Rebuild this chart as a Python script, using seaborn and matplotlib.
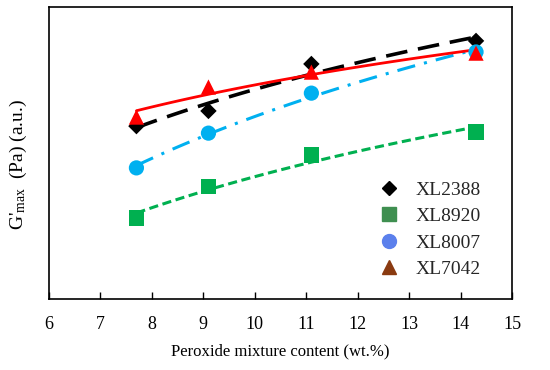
import numpy as np
import pandas as pd
import matplotlib.pyplot as plt
import seaborn as sns
from matplotlib.lines import Line2D

# Peroxide content (wt.%) and G'max values (arbitrary units)
peroxide = [7.7, 9.1, 11.1, 14.3]
xl2388 = [59.2, 64.4, 80.5, 88.4]
xl8920 = [27.7, 38.4, 49.3, 57.2]
xl8007 = [44.9, 56.8, 70.5, 84.6]
xl7042 = [62.3, 72.6, 77.7, 84.2]

grades = ['XL2388', 'XL8920', 'XL8007', 'XL7042']
x_ticks = [6, 7, 8, 9, 10, 11, 12, 13, 14, 15]

df = pd.DataFrame({
    'content': peroxide * 4,
    'gmax': xl2388 + xl8920 + xl8007 + xl7042,
    'grade': np.repeat(grades, len(peroxide)),
})

sns.set_theme(style='white')
plt.rcParams['font.family'] = ['Liberation Serif', 'DejaVu Serif']
plt.rcParams['mathtext.fontset'] = 'custom'
plt.rcParams['mathtext.rm'] = 'Liberation Serif'

# style per grade: marker colour, marker, size, line colour, dashes, width
styles = {
    'XL2388': ('black', 'D', 70, 'black', (6, 3), 2.6),
    'XL8920': ('#00b050', 's', 120, '#00b050', (3, 1.5), 2.2),
    'XL8007': ('#00b0f0', 'o', 120, '#00b0f0', (6, 3, 1, 3), 2.2),
    'XL7042': ('#ff0000', '^', 120, '#ff0000', None, 2.0),
}
legend_colors = {'XL2388': 'black', 'XL8920': '#3f8f50',
                 'XL8007': '#5b80ec', 'XL7042': '#8a3a10'}

fig, ax = plt.subplots(figsize=(5.5, 3.7), dpi=100)

for g in grades:
    mc, mk, ms, lc, dash, lw = styles[g]
    sub = df[df['grade'] == g]
    kws = dict(color=lc, lw=lw)
    if dash is not None:
        kws['dashes'] = dash
    sns.regplot(data=sub, x='content', y='gmax', logx=True, ci=None,
                scatter=False, truncate=True, line_kws=kws, ax=ax)
    sns.scatterplot(data=sub, x='content', y='gmax', color=mc, marker=mk,
                    s=ms, edgecolor='none', zorder=3, ax=ax, legend=False)

ax.set_xlim(6, 15)
ax.set_ylim(0, 100)
ax.set_xticks(x_ticks)
ax.set_yticks([])
ax.tick_params(axis='x', direction='in', length=5, width=1, colors='black',
               labelsize=13, pad=12, bottom=True)
for s in ax.spines.values():
    s.set_color('black')
    s.set_linewidth(1.2)

ax.set_xlabel('Peroxide mixture content (wt.%)', fontsize=12, color='black', labelpad=8)
ax.set_ylabel("G'$\\mathregular{_{max}}$  (Pa) (a.u.)", fontsize=14, color='black')
ax.yaxis.set_label_coords(-0.042, 0.46)

handles = [Line2D([], [], ls='none', marker=styles[g][1], color=legend_colors[g],
                  markersize=7.5 if g == 'XL2388' else 10) for g in grades]
ax.legend(handles, grades, loc='upper left', bbox_to_anchor=(0.675, 0.43),
          frameon=False, fontsize=14, handletextpad=0.4, labelspacing=0.45,
          borderaxespad=0)

fig.subplots_adjust(left=0.089, right=0.931, bottom=0.192, top=0.981)
fig.savefig('out.png', dpi=100)
